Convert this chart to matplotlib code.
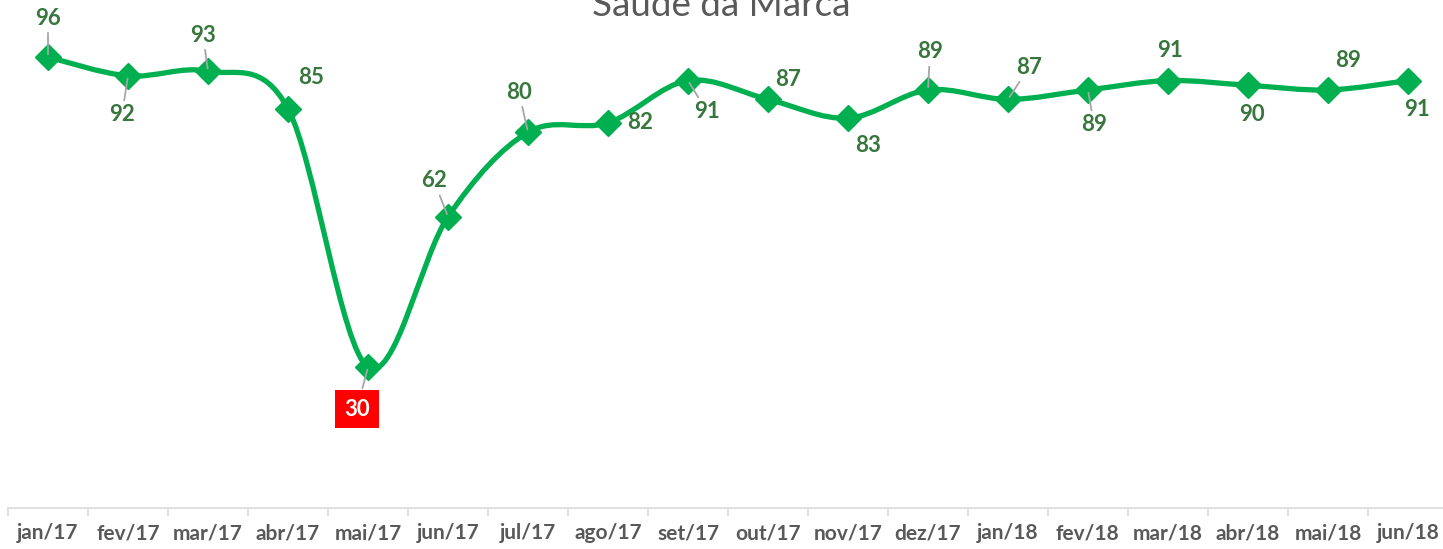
import numpy as np
import matplotlib
matplotlib.use("Agg")
import matplotlib.pyplot as plt
from matplotlib.path import Path
from matplotlib.patches import PathPatch

# data
months = ['jan/17', 'fev/17', 'mar/17', 'abr/17', 'mai/17', 'jun/17', 'jul/17', 'ago/17', 'set/17',
          'out/17', 'nov/17', 'dez/17', 'jan/18', 'fev/18', 'mar/18', 'abr/18', 'mai/18', 'jun/18']
scores = [96, 92, 93, 85, 30, 62, 80, 82, 91, 87, 83, 89, 87, 89, 91, 90, 89, 91]

# label placement (pixel offsets from the point) and which ones get a leader line
label_dx = [0, -6, -5, 23, -11, -14, -9, 32, 19, 20, 20, 2, 21, 6, 2, 4, 20, 9]
label_dy = [39, -39, 36, 31, -42, 36, 40, 0, -31, 20, -27, 38, 32, -35, 30, -29, 29, -29]
leaders = [0, 1, 2, 4, 5, 6, 8, 11, 12, 13]
highlight = 4

GREEN = '#00B050'
LABEL_GREEN = '#37763C'
GREY = '#595959'

plt.rcParams['font.family'] = ['Lato', 'DejaVu Sans']

fig = plt.figure(figsize=(14.43, 5.49), dpi=100)
ax = fig.add_axes([8 / 1443, 41 / 549, 1440 / 1443, 469.7 / 549])

x = np.arange(len(scores))
y = np.array(scores, dtype=float)

# smoothed line (catmull-rom style bezier, like the spreadsheet "smooth line")
pts = np.column_stack([x, y])
ext = np.vstack([pts[0], pts, pts[-1]])
verts = [pts[0]]
codes = [Path.MOVETO]
for i in range(len(pts) - 1):
    p0, p1, p2, p3 = ext[i], ext[i + 1], ext[i + 2], ext[i + 3]
    verts += [p1 + (p2 - p0) / 6, p2 - (p3 - p1) / 6, p2]
    codes += [Path.CURVE4] * 3
ax.add_patch(PathPatch(Path(verts, codes), fc='none', ec=GREEN, lw=3.8, capstyle='round', zorder=2))
ax.plot(x, y, linestyle='none', marker='D', ms=13, color=GREEN, zorder=3)

for i, v in enumerate(scores):
    kw = dict(textcoords='offset pixels', ha='center', va='center', fontsize=16,
              fontweight='bold', zorder=4)
    if i in leaders:
        kw['arrowprops'] = dict(arrowstyle='-', color='#A6A6A6', lw=1.3, shrinkA=1, shrinkB=2)
    if i == highlight:
        ax.annotate(str(v), xy=(i, v), xytext=(label_dx[i], label_dy[i]), color='white',
                    bbox=dict(boxstyle='square,pad=0.4', fc='#FF0000', ec='none'), **kw)
    else:
        ax.annotate(str(v), xy=(i, v), xytext=(label_dx[i], label_dy[i]), color=LABEL_GREEN, **kw)

ax.set_xlim(-0.5, len(scores) - 0.5)
ax.set_ylim(0, 100)
ax.set_xticks(x)
ax.set_xticklabels(months, fontsize=15, fontweight='bold', color=GREY)
ax.set_xticks(np.arange(len(scores) + 1) - 0.5, minor=True)
ax.tick_params(axis='x', which='major', length=0, pad=11)
ax.tick_params(axis='x', which='minor', length=6, color='#D9D9D9', width=1.2)
ax.set_yticks([])
for s in ['top', 'left', 'right']:
    ax.spines[s].set_visible(False)
ax.spines['bottom'].set_color('#D9D9D9')
ax.spines['bottom'].set_linewidth(1.2)
ax.patch.set_visible(False)

fig.text(0.5, 1 - 16 / 549, 'Saúde da Marca', ha='center', va='baseline', fontsize=26.5, color=GREY)

fig.savefig('out.png', dpi=100)
